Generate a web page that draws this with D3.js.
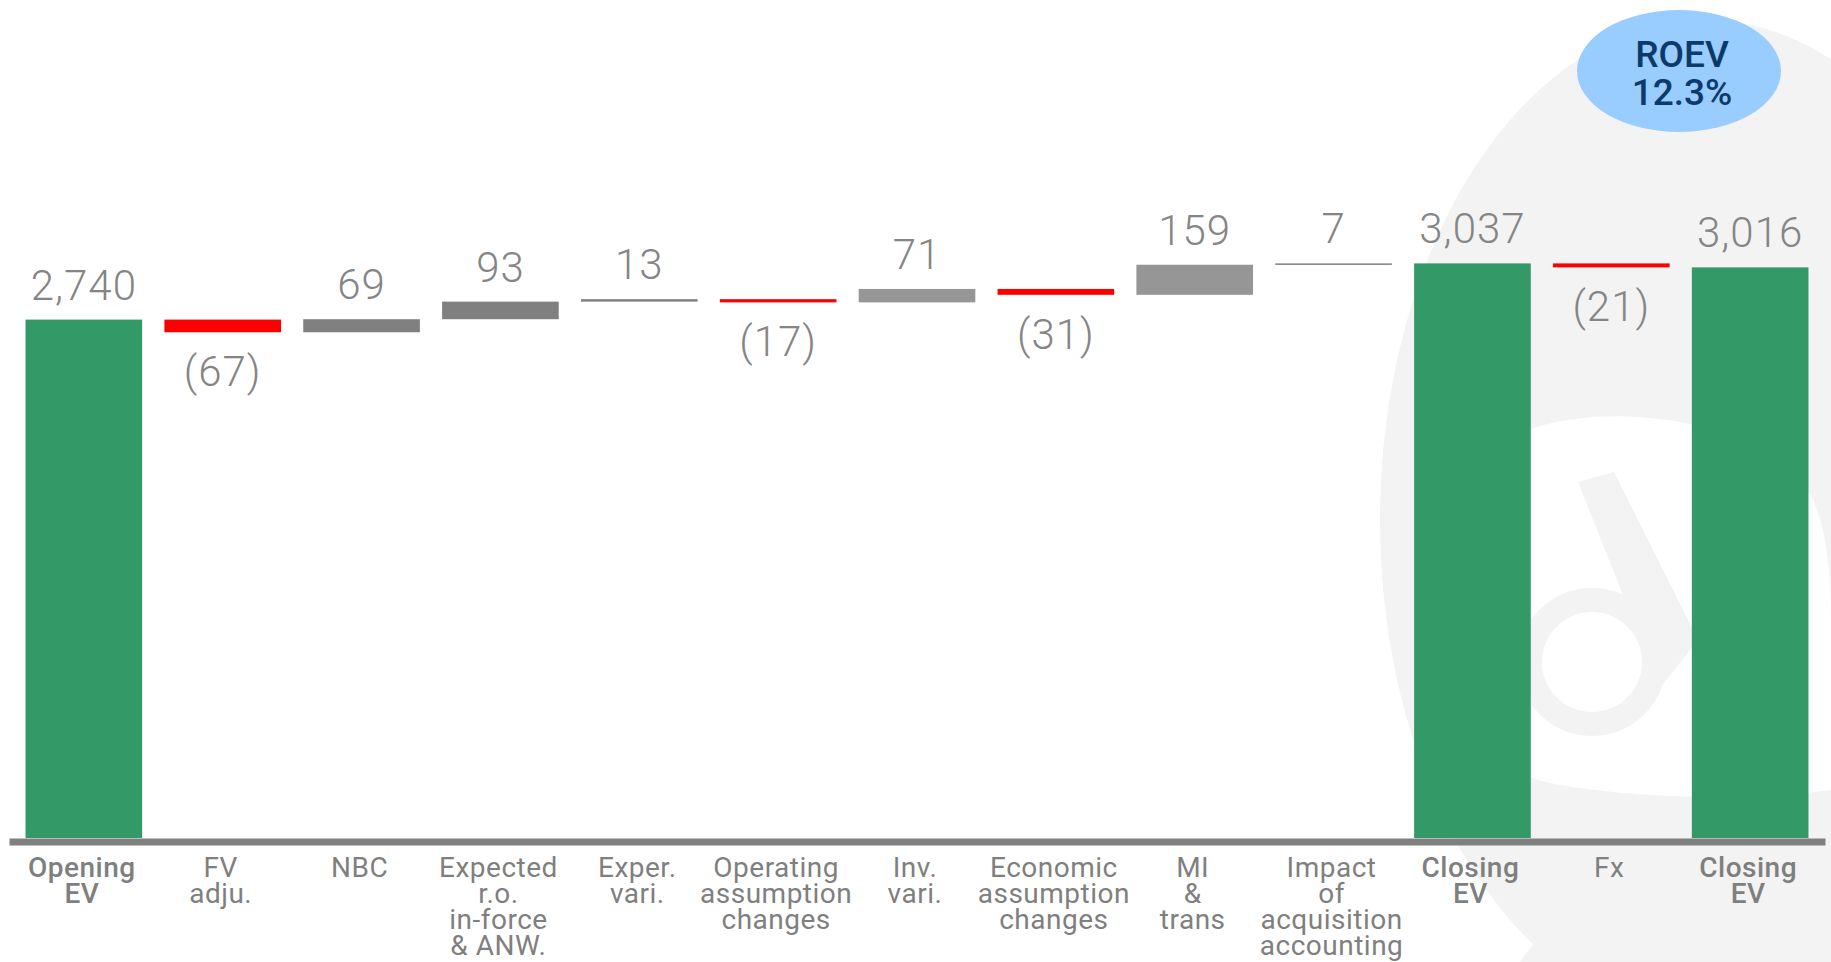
<!DOCTYPE html>
<html>
<head>
<meta charset="utf-8">
<script src="https://cdn.jsdelivr.net/npm/d3@7/dist/d3.min.js"></script>
<style>
  html, body { margin: 0; padding: 0; background: #ffffff; }
  svg { display: block; }
</style>
</head>
<body>
<svg id="chart" width="1831" height="962"></svg>
<script>
// categories, one entry per column, "|" marks a line break in the label
var categories = [
  "Opening|EV", "FV|adju.", "NBC", "Expected|r.o.|in-force|& ANW.", "Exper.|vari.",
  "Operating|assumption|changes", "Inv.|vari.", "Economic|assumption|changes",
  "MI|&|trans", "Impact|of|acquisition|accounting", "Closing|EV", "Fx", "Closing|EV"
];
var values = [2740, -67, 69, 93, 13, -17, 71, -31, 159, 7, 3037, -21, 3016];
var isTotal = [true, false, false, false, false, false, false, false, false, false, true, false, true];
var roevLines = ["ROEV", "12.3%"];

let svg = d3.select("#chart");

// faint watermark behind the chart
let wm = svg.append("g").attr("id", "watermark").attr("fill", "#f3f3f3");
wm.append("ellipse").attr("cx", 1705).attr("cy", 520).attr("rx", 325).attr("ry", 500);
wm.append("path")
  .attr("d", "M1505,440 C1560,410 1660,405 1760,445 C1830,480 1831,560 1831,640 L1831,790 C1760,800 1650,800 1560,785 C1470,770 1440,700 1445,600 C1450,520 1470,465 1505,440 Z")
  .attr("fill", "#ffffff");
wm.append("circle").attr("cx", 1592).attr("cy", 662).attr("r", 62)
  .attr("fill", "none").attr("stroke", "#f3f3f3").attr("stroke-width", 24);
wm.append("path").attr("d", "M1578,482 L1614,472 L1698,640 L1660,688 Z");
wm.append("path")
  .attr("d", "M1520,962 C1560,900 1650,870 1760,880 L1831,890 L1831,962 Z");

// scales
let x = d3.scaleBand()
  .domain(d3.range(categories.length))
  .range([9, 1825])
  .paddingInner(0.16)
  .paddingOuter(0.119);

let y = d3.scaleLinear()
  .domain([0, 3200])
  .range([838, 838 - 3200 * 0.1892]);

// waterfall steps
let steps = [];
let running = 0;
values.forEach((v, i) => {
  let from, to;
  if (isTotal[i]) { from = 0; to = v; running = v; }
  else { from = running; to = running + v; running = to; }
  steps.push({ i: i, v: v, lo: Math.min(from, to), hi: Math.max(from, to), total: isTotal[i] });
});

let lightGray = { 6: true, 8: true };
function barColor(d) {
  if (d.total) return "#339966";
  if (d.v < 0) return "#ff0000";
  return lightGray[d.i] ? "#969696" : "#808080";
}

let plot = svg.append("g").attr("id", "plot");

plot.selectAll("rect.bar")
  .data(steps)
  .enter().append("rect")
  .attr("class", "bar")
  .attr("x", d => x(d.i))
  .attr("width", x.bandwidth())
  .attr("y", d => y(d.hi))
  .attr("height", d => Math.max(1.5, y(d.lo) - y(d.hi)))
  .attr("fill", barColor);

// value labels
let fmt = d3.format(",");
plot.selectAll("text.value")
  .data(steps)
  .enter().append("text")
  .attr("class", "value")
  .attr("x", d => x(d.i) + x.bandwidth() / 2)
  .attr("y", d => d.v < 0 ? y(d.lo) + 54 : y(d.hi) - 20)
  .attr("text-anchor", "middle")
  .style("font-family", "Roboto, 'Open Sans', sans-serif")
  .style("font-weight", 300)
  .style("font-size", "42px")
  .style("letter-spacing", "1px")
  .style("fill", "#858585")
  .text(d => d.v < 0 ? "(" + fmt(-d.v) + ")" : fmt(d.v));

// x axis: thick gray base line, labels drawn as multi-line text
let xAxis = d3.axisBottom(x).tickSize(0).tickSizeOuter(0).tickFormat("");
let xGroup = svg.append("g").attr("id", "x-axis")
  .attr("transform", "translate(0,841.5)")
  .call(xAxis);
xGroup.select(".domain").attr("stroke", "#808080").attr("stroke-width", 7);

let labels = svg.append("g").attr("id", "x-labels");
categories.forEach((c, i) => {
  let cx = x(i) + x.bandwidth() / 2 - 2;
  let t = labels.append("text")
    .attr("x", cx)
    .attr("y", 877)
    .attr("text-anchor", "middle")
    .style("font-family", "Roboto, 'Open Sans', sans-serif")
    .style("font-size", "28px")
    .style("letter-spacing", "0.5px")
    .style("font-weight", isTotal[i] ? 500 : 400)
    .style("fill", "#7f7f7f");
  c.split("|").forEach((line, k) => {
    t.append("tspan")
      .attr("x", cx)
      .attr("dy", k === 0 ? 0 : 26)
      .text(line);
  });
});

// ROEV bubble
let bubble = svg.append("g").attr("id", "roev");
bubble.append("ellipse")
  .attr("cx", 1679).attr("cy", 71).attr("rx", 102).attr("ry", 61)
  .attr("fill", "#99ccff");
roevLines.forEach((line, k) => {
  bubble.append("text")
    .attr("x", 1682)
    .attr("y", 67 + k * 38)
    .attr("text-anchor", "middle")
    .style("font-family", "Roboto, 'Open Sans', sans-serif")
    .style("font-weight", 500)
    .style("font-size", "37px")
    .style("fill", "#0b3a6b")
    .text(line);
});
</script>
</body>
</html>
